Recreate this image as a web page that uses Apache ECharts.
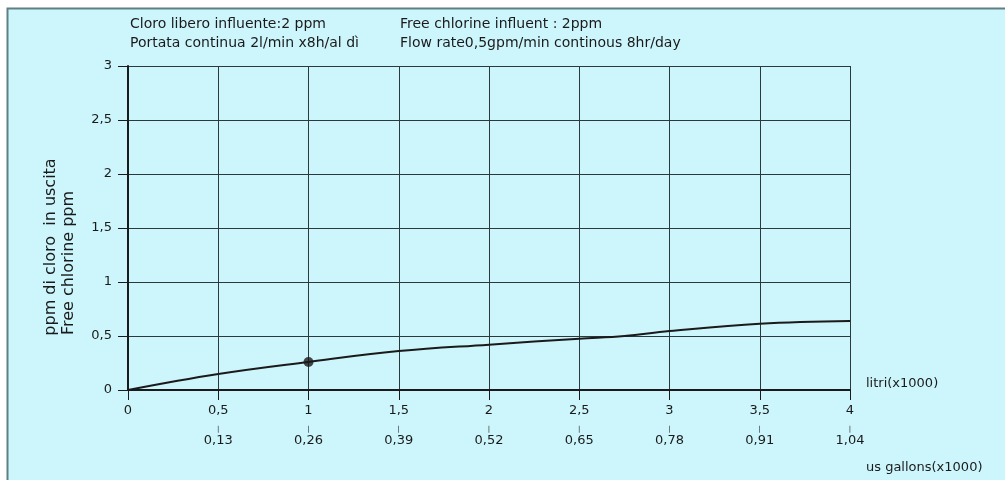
<!DOCTYPE html>
<html><head><meta charset="utf-8">
<script src="https://cdn.jsdelivr.net/npm/echarts@6/dist/echarts.min.js"></script>
<style>html,body{margin:0;padding:0;background:#fff}#c{width:1005px;height:480px}</style>
</head><body><div id="c"></div>
<script>
var litri = [0, 0.5, 1, 1.5, 2, 2.5, 2.75, 3, 3.5, 4];
var ppm = [0, 0.148, 0.26, 0.36, 0.42, 0.475, 0.50, 0.546, 0.614, 0.64];
var markedPoint = [[1, 0.26]];
var yTickLabels = ['0', '0,5', '1', '1,5', '2', '2,5', '3'];
var litriLabels = ['0', '0,5', '1', '1,5', '2', '2,5', '3', '3,5', '4'];
var gallonLabels = ['', '0,13', '0,26', '0,39', '0,52', '0,65', '0,78', '0,91', '1,04'];

var FONT = 'DejaVu Sans';
var ink = '#1a1a1a';
var chart = echarts.init(document.getElementById('c'));
chart.setOption({
  backgroundColor: '#ffffff',
  animation: false,
  textStyle: {fontFamily: FONT, color: ink},
  graphic: [
    {type: 'rect', z: -10, shape: {x: 7.5, y: 8.5, width: 1005, height: 480},
     style: {fill: '#cdf6fc', stroke: '#5f7f84', lineWidth: 2}},
    {type: 'text', left: 130, top: 17, style: {text: 'Cloro libero influente:2 ppm', font: '14px ' + FONT, fill: ink}},
    {type: 'text', left: 130, top: 36, style: {text: 'Portata continua 2l/min x8h/al dì', font: '14px ' + FONT, fill: ink}},
    {type: 'text', left: 400, top: 17, style: {text: 'Free chlorine influent : 2ppm', font: '14px ' + FONT, fill: ink}},
    {type: 'text', left: 400, top: 36, style: {text: 'Flow rate0,5gpm/min continous 8hr/day', font: '14px ' + FONT, fill: ink}},
    {type: 'text', left: 866, top: 377, style: {text: 'litri(x1000)', font: '13px ' + FONT, fill: ink}},
    {type: 'text', left: 866, top: 461, style: {text: 'us gallons(x1000)', font: '13px ' + FONT, fill: ink}},
    {type: 'text', x: 51, y: 247, rotation: Math.PI / 2, style: {text: 'ppm di cloro  in uscita', font: '16px ' + FONT, fill: ink, align: 'center', verticalAlign: 'middle'}},
    {type: 'text', x: 69, y: 263, rotation: Math.PI / 2, style: {text: 'Free chlorine ppm', font: '16px ' + FONT, fill: ink, align: 'center', verticalAlign: 'middle'}}
  ],
  grid: {left: 128, right: 155, top: 66, bottom: 90, containLabel: false},
  xAxis: [
    {type: 'value', min: 0, max: 4, interval: 0.5, position: 'bottom',
     axisLine: {show: true, onZero: false, lineStyle: {color: ink, width: 2}},
     axisTick: {show: true, length: 10, lineStyle: {color: ink, width: 1}},
     axisLabel: {margin: 14, fontSize: 13, fontFamily: FONT, color: ink,
       formatter: function (v) { return litriLabels[Math.round(v / 0.5)]; }},
     splitLine: {show: true, lineStyle: {color: '#2a3a3c', width: 1}}},
    {type: 'value', min: 0, max: 4, interval: 0.5, position: 'bottom', offset: 30,
     axisLine: {show: false},
     axisTick: {show: false},
     axisLabel: {margin: 5, fontFamily: FONT, color: ink,
       formatter: function (v) {
         var s = gallonLabels[Math.round(v / 0.5)];
         return s ? '{t||}\n{v|' + s + '}' : '';
       },
       rich: {
         t: {fontSize: 7, lineHeight: 8, fontFamily: FONT, color: ink},
         v: {fontSize: 13, lineHeight: 15, fontFamily: FONT, color: ink}
       }},
     splitLine: {show: false}}
  ],
  yAxis: {type: 'value', min: 0, max: 3, interval: 0.5,
    axisLine: {show: true, lineStyle: {color: ink, width: 2}},
    axisTick: {show: true, length: 10, lineStyle: {color: ink, width: 1}},
    axisLabel: {margin: 16, fontSize: 13, fontFamily: FONT, color: ink,
      formatter: function (v) { return yTickLabels[Math.round(v / 0.5)]; }},
    splitLine: {show: true, lineStyle: {color: '#2a3a3c', width: 1}}},
  series: [
    {type: 'line', xAxisIndex: 0, smooth: 0.4, symbol: 'none',
     lineStyle: {color: ink, width: 2},
     data: litri.map(function (x, i) { return [x, ppm[i]]; })},
    {type: 'scatter', xAxisIndex: 0, symbol: 'circle', symbolSize: 10,
     itemStyle: {color: ink}, data: markedPoint}
  ]
});
</script></body></html>
